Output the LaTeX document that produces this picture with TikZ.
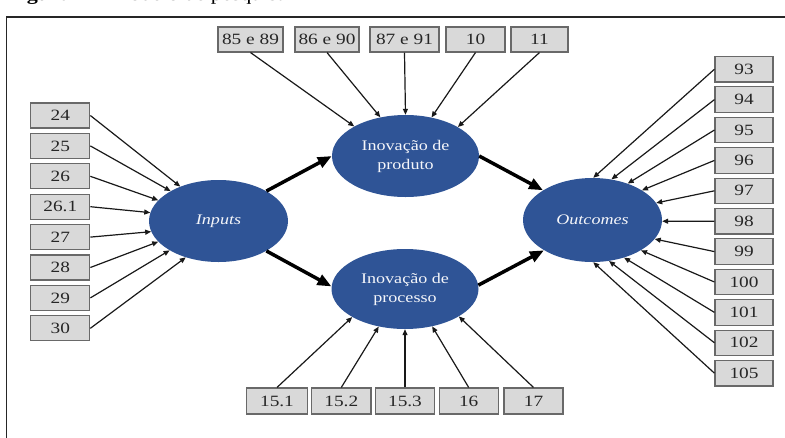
\documentclass[tikz,border=0pt]{standalone}
\usepackage{fontspec}
\setmainfont{Liberation Serif}[FakeStretch=1.23]
\usetikzlibrary{arrows.meta,shapes.geometric}
\definecolor{latent}{RGB}{47,84,150}
\definecolor{boxfill}{RGB}{217,217,217}
\definecolor{boxline}{RGB}{105,105,105}
\begin{document}
\begin{tikzpicture}[x=1pt,y=-1pt,
  indicator/.style={draw=boxline, fill=boxfill, line width=1.1pt, inner sep=0pt,
    minimum height=25pt, font=\fontsize{15.7}{18}\selectfont, text=black!85},
  construct/.style={ellipse, fill=latent, inner sep=0pt, text=white!95!latent,
    align=center, font=\fontsize{14.7}{19}\selectfont},
  load/.style={line width=1.2pt, black!90, -{Triangle[length=6pt,width=5pt]}},
  structural/.style={line width=3.5pt, black, -{Triangle[length=14pt,width=11pt]}},
]
\useasboundingbox (0,0) rectangle (785,437);

% caption (cut by the page edge) and frame
\node[anchor=base west, inner sep=0pt, font=\fontsize{18}{20}\selectfont] (caption)
  at (7,0.3) {\textbf{Figura 1 –} Modelo de pesquisa};
\draw[line width=1.6pt, black!85] (6.5,445) -- (6.5,17) -- (795,17);

% latent constructs
\node[construct, minimum width=139pt, minimum height=82pt] (inp) at (218.5,221) {\itshape Inputs};
\node[construct, minimum width=147pt, minimum height=82pt] (prod) at (405.5,156) {Inovação de\\produto};
\node[construct, minimum width=147pt, minimum height=80pt] (proc) at (405,289) {Inovação de\\processo};
\node[construct, minimum width=139pt, minimum height=84pt] (out) at (592.5,220) {\itshape Outcomes};

% indicators of Inputs
\foreach \lab/\nm/\ang [count=\i from 0] in {24/i24/138, 25/i25/148.5, 26/i26/161, 26.1/i261/173,
    27/i27/189, 28/i28/199, 29/i29/211.5, 30/i30/228}{
  \node[indicator, minimum width=59pt] (\nm) at (60.3,115.5+30.4*\i) {\lab};
  \draw[load] (\nm.east) -- (inp.\ang);
}

% indicators of product innovation
\node[indicator, minimum width=65pt] (p8589) at (250.5,39.5) {85 e 89};
\node[indicator, minimum width=64pt] (p8690) at (327,39.5) {86 e 90};
\node[indicator, minimum width=69pt] (p8791) at (404.5,39.5) {87 e 91};
\node[indicator, minimum width=59pt] (p10) at (475.5,39.5) {10};
\node[indicator, minimum width=57pt] (p11) at (539.5,39.5) {11};
\draw[load] (p8589.south) -- (prod.150);
\draw[load] (p8690.south) -- (prod.123.6);
\draw[load] (p8791.south) -- (prod.90);
\draw[load] (p10.south) -- (prod.56);
\draw[load] (p11.south) -- (prod.29.6);

% indicators of process innovation
\node[indicator, minimum width=60.5pt, minimum height=26pt] (q151) at (277,401) {15.1};
\node[indicator, minimum width=59.3pt, minimum height=26pt] (q152) at (341.3,401) {15.2};
\node[indicator, minimum width=58.3pt, minimum height=26pt] (q153) at (405,401) {15.3};
\node[indicator, minimum width=59.3pt, minimum height=26pt] (q16) at (468.7,401) {16};
\node[indicator, minimum width=59pt, minimum height=26pt] (q17) at (533.5,401) {17};
\draw[load] (q151.north) -- (proc.208);
\draw[load] (q152.north) -- (proc.235);
\draw[load] (q153.north) -- (proc.270);
\draw[load] (q16.north) -- (proc.306.5);
\draw[load] (q17.north) -- (proc.333);

% indicators of Outcomes
\foreach \lab/\ang [count=\i from 0] in {93/89, 94/65, 95/46, 96/31, 97/15, 98/-1,
    99/-17, 100/-32, 101/-50, 102/-68, 105/-89}{
  \node[indicator, minimum width=58pt, minimum height=25.5pt] (o\lab) at (744,69.2+30.4*\i) {\lab};
  \draw[load] (o\lab.west) -- (out.\ang);
}

% structural paths
\draw[structural] (inp.32) -- (prod.180);
\draw[structural] (inp.-32) -- (proc.178);
\draw[structural] (prod.0) -- (out.149);
\draw[structural] (proc.3) -- (out.212);
\end{tikzpicture}
\end{document}
